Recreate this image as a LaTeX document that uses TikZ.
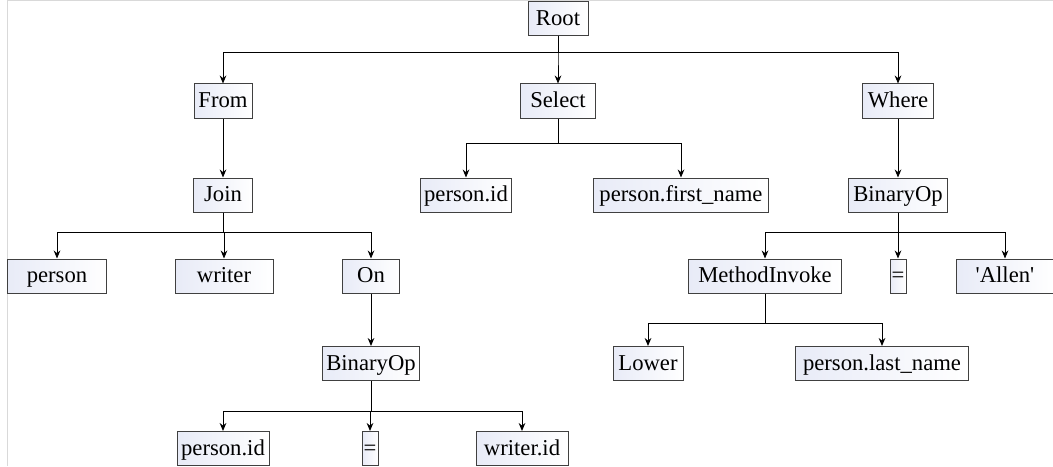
\documentclass[tikz,border=0pt]{standalone}
\usepackage{fontspec}
\setmainfont{Liberation Serif}
\usetikzlibrary{positioning,arrows.meta}

\definecolor{boxleft}{RGB}{232,235,247}
\tikzset{
  ast/.style={draw=black!75, line width=0.75pt, left color=boxleft, right color=white,
    minimum width=#1*0.75pt, minimum height=25.5pt, inner xsep=1pt, inner ysep=0pt,
    text height=13pt, text depth=3pt,
    font=\fontsize{17}{20}\selectfont},
  link/.style={line width=0.75pt, -{Stealth[length=6pt,width=5pt]}},
}

\begin{document}
\begin{tikzpicture}[x=0.75pt, y=-0.75pt]
        \useasboundingbox (0,0) rectangle (1053,467);
        % Frame
        \draw[black!15, line width=0.75pt] (7,466) -- (7,1) -- (1053,1);

        % Define nodes
        \node[ast=60]  (root)   at (558,18.5) {Root};
        \node[ast=58]  (from)   at (223,101)  {From};
        \node[ast=75]  (select) at (558,101)  {Select};
        \node[ast=71]  (where)  at (898,101)  {Where};
        \node[ast=59]  (join)   at (223,195)  {Join};
        \node[ast=91]  (selid)  at (466,195)  {person.id};
        \node[ast=175] (selfn)  at (681,195)  {person.first\_name};
        \node[ast=99]  (wbin)   at (898,195)  {BinaryOp};
        \node[ast=99]  (person) at (57,276)   {person};
        \node[ast=98]  (writer) at (224,276)  {writer};
        \node[ast=57]  (on)     at (371,276)  {On};
        \node[ast=153] (minv)   at (765,276)  {MethodInvoke};
        \node[ast=16]  (weq)    at (898,276)  {=};
        \node[ast=97]  (allen)  at (1005,276) {\textquotesingle Allen\textquotesingle};
        \node[ast=97]  (obin)   at (371,363.5) {BinaryOp};
        \node[ast=70]  (lower)  at (648,363.5) {Lower};
        \node[ast=173] (plast)  at (882,363.5) {person.last\_name};
        \node[ast=92]  (bid)    at (223,448.5) {person.id};
        \node[ast=16]  (beq)    at (370,448.5) {=};
        \node[ast=92]  (wid)    at (522,448.5) {writer.id};

        % Bar levels
        \coordinate (rootbar) at (0,53);
        \coordinate (selbar)  at (0,143);
        \coordinate (joinbar) at (0,232);
        \coordinate (wbinbar) at (0,232);
        \coordinate (minvbar) at (0,323);
        \coordinate (obinbar) at (0,411);

        % Connect the nodes
        \foreach \c in {from,select,where}
          \draw[link] (root.south) -- (root.south |- rootbar) -| (\c.north);
        \foreach \c in {selid,selfn}
          \draw[link] (select.south) -- (select.south |- selbar) -| (\c.north);
        \foreach \c in {person,writer,on}
          \draw[link] (join.south) -- (join.south |- joinbar) -| (\c.north);
        \foreach \c in {minv,weq,allen}
          \draw[link] (wbin.south) -- (wbin.south |- wbinbar) -| (\c.north);
        \foreach \c in {lower,plast}
          \draw[link] (minv.south) -- (minv.south |- minvbar) -| (\c.north);
        \foreach \c in {bid,beq,wid}
          \draw[link] (obin.south) -- (obin.south |- obinbar) -| (\c.north);
        \draw[link] (from) -- (join);
        \draw[link] (where) -- (wbin);
        \draw[link] (on) -- (obin);

    \end{tikzpicture}
\end{document}
